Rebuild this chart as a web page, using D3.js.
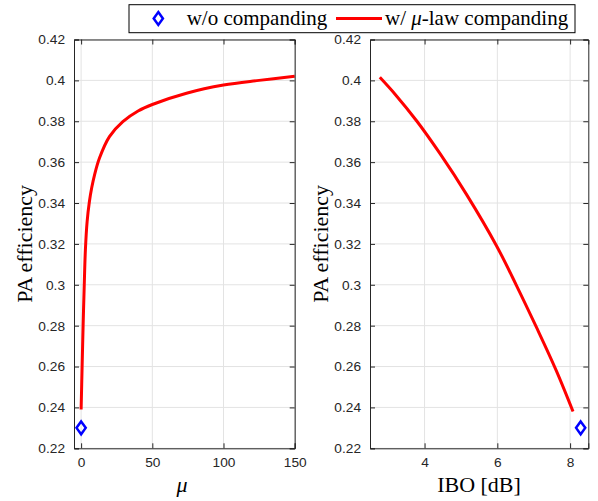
<!DOCTYPE html>
<html><head><meta charset="utf-8">
<script src="https://cdn.jsdelivr.net/npm/d3@7"></script>
<style>body{margin:0;background:#fff}svg{display:block}</style>
</head><body>
<script>
// ---- data ----
const muValues = [0, 0.7, 1.4, 2.2, 3.0, 4.2, 5.8, 7.5, 9.4, 12.9, 19.9, 29.3, 40, 50, 74, 100, 125, 150];
const effVsMu = [0.239, 0.26, 0.28, 0.30, 0.317, 0.3308, 0.3406, 0.3477, 0.3537, 0.362, 0.3725, 0.3798, 0.385, 0.3882, 0.3937, 0.3977, 0.4, 0.402];
const iboValues = [2.77, 3.2, 3.79, 4.43, 5.16, 5.98, 6.53, 7.08, 7.62, 8.08];
const effVsIbo = [0.4015, 0.393, 0.380, 0.364, 0.344, 0.319, 0.2995, 0.279, 0.258, 0.238];
const noCompMu = [0];
const noCompIbo = [8.29];
const noCompEff = [0.23];
const yTicks = [0.22, 0.24, 0.26, 0.28, 0.3, 0.32, 0.34, 0.36, 0.38, 0.4, 0.42];
const muTicks = [0, 50, 100, 150];
const iboTicks = [4, 6, 8];
const legendLabels = ["w/o companding", "w/ μ-law companding"];

const W = 598, H = 501;
const svg = d3.select("body").append("svg").attr("width", W).attr("height", H);
const axisColor = "#262626", gridColor = "#e3e3e3";
const tickFont = "Liberation Sans, Arial, sans-serif";
const serif = "Liberation Serif, Times New Roman, serif";

function diamondPath(cx, cy) {
  const hw = 4.6, hh = 6.4;
  return `M${cx},${cy - hh}L${cx + hw},${cy}L${cx},${cy + hh}L${cx - hw},${cy}Z`;
}

function panel(x0, x1, xDomain, xTicks, xs, ys, mx, my) {
  const top = 39.5, bottom = 448.3;
  const x = d3.scaleLinear().domain(xDomain).range([x0, x1]);
  const y = d3.scaleLinear().domain([0.22, 0.42]).range([bottom, top]);
  const g = svg.append("g");
  g.selectAll(".gy").data(yTicks).join("line")
    .attr("x1", x0).attr("x2", x1).attr("y1", d => y(d)).attr("y2", d => y(d))
    .attr("stroke", gridColor).attr("stroke-width", 1);
  g.selectAll(".gx").data(xTicks).join("line")
    .attr("y1", top).attr("y2", bottom).attr("x1", d => x(d)).attr("x2", d => x(d))
    .attr("stroke", gridColor).attr("stroke-width", 1);
  const pts = xs.map((v, i) => [v, ys[i]]);
  g.append("path").datum(pts)
    .attr("d", d3.line().x(d => x(d[0])).y(d => y(d[1])).curve(d3.curveCatmullRom.alpha(0.5)))
    .attr("fill", "none").attr("stroke", "#ff0000").attr("stroke-width", 3);
  mx.forEach((v, i) => {
    g.append("path").attr("d", diamondPath(x(v), y(my[i])))
      .attr("fill", "none").attr("stroke", "#0000ff").attr("stroke-width", 2.5);
  });
  const ax = d3.axisBottom(x).tickValues(xTicks).tickSize(-5).tickPadding(9).tickFormat(d3.format("~g"));
  const axT = d3.axisTop(x).tickValues(xTicks).tickSize(-5).tickFormat("");
  const ay = d3.axisLeft(y).tickValues(yTicks).tickSize(-5).tickPadding(9).tickFormat(d => String(+d.toFixed(2)));
  const ayR = d3.axisRight(y).tickValues(yTicks).tickSize(-5).tickFormat("");
  [[ax, `translate(0,${bottom})`], [axT, `translate(0,${top})`], [ay, `translate(${x0},0)`], [ayR, `translate(${x1},0)`]]
    .forEach(([a, t]) => {
      const s = g.append("g").attr("transform", t).call(a);
      s.select(".domain").attr("stroke", axisColor).attr("stroke-width", 1);
      s.selectAll(".tick line").attr("stroke", axisColor);
      s.selectAll("text").attr("fill", axisColor).style("font-family", tickFont).style("font-size", "13.7px");
    });
  g.append("text").attr("transform", `translate(${x0 - 42},${(top + bottom) / 2}) rotate(-90)`)
    .attr("text-anchor", "middle").style("font-family", serif).style("font-size", "22px")
    .attr("fill", "#000").text("PA efficiency");
}

panel(74, 294.7, [-5, 150], muTicks, muValues, effVsMu, noCompMu, noCompEff);
panel(370, 588.3, [2.5, 8.5], iboTicks, iboValues, effVsIbo, noCompIbo, noCompEff);

svg.append("text").attr("x", 182).attr("y", 491.7).attr("text-anchor", "middle")
  .style("font-family", serif).style("font-size", "22px").style("font-style", "italic").text("μ");
svg.append("text").attr("x", 479).attr("y", 491.7).attr("text-anchor", "middle")
  .style("font-family", serif).style("font-size", "22px").text("IBO [dB]");

const lg = svg.append("g");
lg.append("rect").attr("x", 129).attr("y", 4.7).attr("width", 446).attr("height", 28)
  .attr("fill", "#fff").attr("stroke", "#000").attr("stroke-width", 1);
lg.append("path").attr("d", diamondPath(158.3, 18.5))
  .attr("fill", "none").attr("stroke", "#0000ff").attr("stroke-width", 2.5);
lg.append("text").attr("x", 186.7).attr("y", 25).style("font-family", serif).style("font-size", "21px")
  .text(legendLabels[0]);
lg.append("line").attr("x1", 336).attr("x2", 382).attr("y1", 18.5).attr("y2", 18.5)
  .attr("stroke", "#ff0000").attr("stroke-width", 3);
const t2 = lg.append("text").attr("x", 385).attr("y", 25).style("font-family", serif).style("font-size", "21px");
t2.append("tspan").text("w/ ");
t2.append("tspan").style("font-style", "italic").text("μ");
t2.append("tspan").text("-law companding");
</script>
</body></html>
